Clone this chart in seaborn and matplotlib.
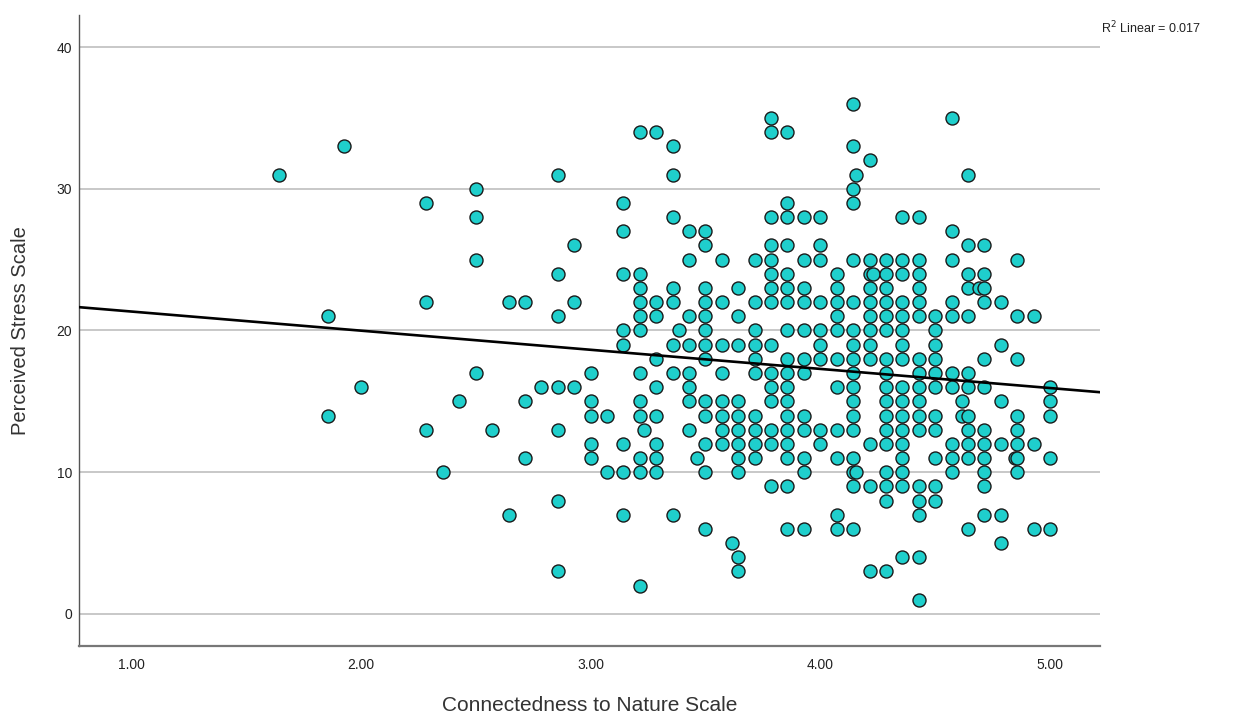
import numpy as np
import pandas as pd
import matplotlib
matplotlib.use("Agg")
import matplotlib.pyplot as plt
import seaborn as sns

# Connectedness to Nature Scale levels (mean scores) and Perceived Stress values read per level
cns_levels = [1.643, 1.857, 1.929, 2.000, 2.286, 2.357, 2.429, 2.500, 2.571, 2.643,
              2.714, 2.786, 2.857, 2.929, 3.000, 3.071, 3.143, 3.214, 3.231, 3.286,
              3.357, 3.385, 3.429, 3.462, 3.500, 3.571, 3.615, 3.643, 3.714, 3.786,
              3.857, 3.929, 4.000, 4.071, 4.143, 4.154, 4.214, 4.231, 4.286, 4.357,
              4.429, 4.500, 4.571, 4.615, 4.643, 4.692, 4.714, 4.786, 4.846, 4.857,
              4.929, 5.000]

pss_groups = [
    [31],                                   # 1.643
    [21, 14],                               # 1.857
    [33],                                   # 1.929
    [16],                                   # 2.000
    [29, 22, 13],                           # 2.286
    [10],                                   # 2.357
    [15],                                   # 2.429
    [30, 28, 25, 17],                       # 2.500
    [13],                                   # 2.571
    [22, 7],                                # 2.643
    [22, 15, 11],                           # 2.714
    [16],                                   # 2.786
    [31, 24, 21, 16, 13, 8, 3],             # 2.857
    [26, 22, 16],                           # 2.929
    [17, 15, 14, 12, 11],                   # 3.000
    [14, 10],                               # 3.071
    [29, 27, 24, 20, 19, 12, 10, 7],        # 3.143
    [34, 24, 23, 22, 21, 20, 17, 15, 14, 11, 10, 2],  # 3.214
    [13],                                   # 3.231
    [34, 22, 21, 18, 16, 14, 12, 11, 10],   # 3.286
    [33, 31, 28, 23, 22, 19, 17, 7],        # 3.357
    [20],                                   # 3.385
    [27, 25, 21, 19, 17, 16, 15, 13],       # 3.429
    [11],                                   # 3.462
    [27, 26, 23, 22, 21, 20, 19, 18, 15, 14, 12, 10, 6],  # 3.500
    [25, 22, 19, 17, 15, 14, 13, 12],       # 3.571
    [5],                                    # 3.615
    [23, 21, 19, 15, 14, 13, 12, 11, 10, 4, 3],  # 3.643
    [25, 22, 20, 19, 18, 17, 14, 13, 12, 11],    # 3.714
    [35, 34, 28, 26, 25, 24, 23, 22, 19, 17, 16, 15, 13, 12, 9],  # 3.786
    [34, 29, 28, 26, 24, 23, 22, 20, 18, 17, 16, 15, 14, 13, 12, 11, 9, 6],  # 3.857
    [28, 25, 23, 22, 20, 18, 17, 14, 13, 11, 10, 6],  # 3.929
    [28, 26, 25, 22, 20, 19, 18, 13, 12],   # 4.000
    [24, 23, 22, 21, 20, 18, 16, 13, 11, 7, 6],  # 4.071
    [36, 33, 30, 29, 25, 22, 20, 19, 18, 17, 16, 15, 14, 13, 11, 10, 9, 6],  # 4.143
    [31, 10],                               # 4.154
    [32, 25, 24, 23, 22, 21, 20, 19, 18, 12, 9, 3],  # 4.214
    [24],                                   # 4.231
    [25, 24, 23, 22, 21, 20, 18, 17, 16, 15, 14, 13, 12, 10, 9, 8, 3],  # 4.286
    [28, 25, 24, 22, 21, 20, 19, 18, 16, 15, 14, 13, 12, 11, 10, 9, 4],  # 4.357
    [28, 25, 24, 23, 22, 21, 18, 17, 16, 15, 14, 13, 9, 8, 7, 4, 1],     # 4.429
    [21, 20, 19, 18, 17, 16, 14, 13, 11, 9, 8],  # 4.500
    [35, 27, 25, 22, 21, 17, 16, 12, 11, 10],    # 4.571
    [15, 14],                               # 4.615
    [31, 26, 24, 23, 21, 17, 16, 14, 13, 12, 11, 6],  # 4.643
    [23],                                   # 4.692
    [26, 24, 23, 22, 18, 16, 13, 12, 11, 10, 9, 7],   # 4.714
    [22, 19, 15, 12, 7, 5],                 # 4.786
    [11],                                   # 4.846
    [25, 21, 18, 14, 13, 12, 11, 10],       # 4.857
    [21, 12, 6],                            # 4.929
    [16, 15, 14, 11, 6],                    # 5.000
]

x_ticks = [1, 2, 3, 4, 5]
x_tick_labels = ["1.00", "2.00", "3.00", "4.00", "5.00"]
y_ticks = [0, 10, 20, 30, 40]
y_tick_labels = ["0", "10", "20", "30", "40"]
x_label = "Connectedness to Nature Scale"
y_label = "Perceived Stress Scale"
r2_text = "R$^2$ Linear = 0.017"

rows = [(cx, py) for cx, grp in zip(cns_levels, pss_groups) for py in grp]
df = pd.DataFrame(rows, columns=["cns", "pss"])

sns.set_theme(style="white")
plt.rcParams['font.family'] = ['Liberation Sans', 'DejaVu Sans']

fig = plt.figure(figsize=(12.39, 7.17), dpi=100)
ax = fig.add_axes([0.0638, 0.0994, 0.8240, 0.8797])
ax.set_xlim(0.774, 5.217)
ax.set_ylim(-2.24, 42.26)

ax.set_yticks(y_ticks)
ax.set_yticklabels(y_tick_labels)
ax.set_xticks(x_ticks)
ax.set_xticklabels(x_tick_labels)
ax.yaxis.grid(True, color='#c8c8c8', linewidth=1.4)
ax.xaxis.grid(False)
ax.set_axisbelow(True)

sns.scatterplot(data=df, x="cns", y="pss", s=88, color="#1fcfcc",
                edgecolor="#1a1a1a", linewidth=1.0, ax=ax, zorder=3, legend=False)
ax.set_xlim(0.774, 5.217)
ax.set_ylim(-2.24, 42.26)
sns.regplot(data=df, x="cns", y="pss", scatter=False, ci=None, truncate=False,
            line_kws=dict(color="black", linewidth=1.9, zorder=4), ax=ax)
ax.set_xlim(0.774, 5.217)
ax.set_ylim(-2.24, 42.26)

for s in ["top", "right"]:
    ax.spines[s].set_visible(False)
ax.spines["left"].set_color("#555555")
ax.spines["left"].set_linewidth(1.0)
ax.spines["bottom"].set_color("#777777")
ax.spines["bottom"].set_linewidth(1.6)

ax.tick_params(axis="both", length=0, labelsize=10, colors="#222222")
ax.tick_params(axis="x", pad=9)
ax.tick_params(axis="y", pad=5)

ax.set_xlabel(x_label, fontsize=15, color="#333333", va="center")
ax.xaxis.set_label_coords(0.5, -(706 - 646) / 630.7)
ax.set_ylabel(y_label, fontsize=14.5, color="#333333", va="center")
ax.yaxis.set_label_coords(-0.0578, 0.5)

fig.text(1101 / 1239, 1 - 28 / 717, r2_text, fontsize=9, color="#222222",
         ha="left", va="center")

fig.savefig("out.png", dpi=100)
